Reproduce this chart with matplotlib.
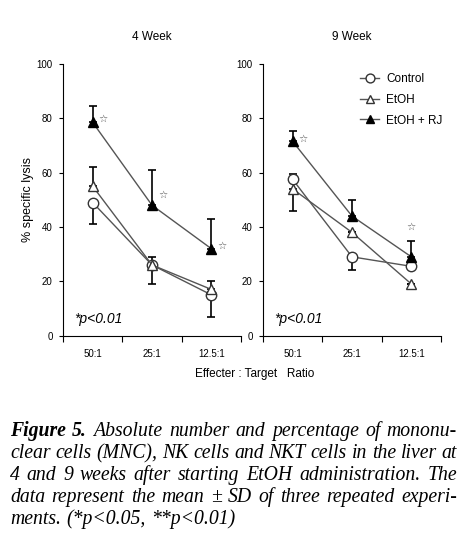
import matplotlib
matplotlib.use("Agg")
import matplotlib.pyplot as plt

categories = ["50:1", "25:1", "12.5:1"]
series_names = ["Control", "EtOH", "EtOH + RJ"]

# 4 Week: means, lower error, upper error
wk4_control = [49, 26, 15]
wk4_control_lo = [8, 7, 8]
wk4_control_hi = [0, 0, 0]
wk4_etoh = [55, 26, 17]
wk4_etoh_lo = [0, 0, 0]
wk4_etoh_hi = [7, 3, 3]
wk4_rj = [78.5, 48, 32]
wk4_rj_lo = [0, 0, 0]
wk4_rj_hi = [6, 13, 11]

# 9 Week
wk9_control = [57.5, 29, 25.5]
wk9_control_lo = [0, 5, 0]
wk9_control_hi = [2, 0, 0]
wk9_etoh = [54, 38, 19]
wk9_etoh_lo = [8, 0, 0]
wk9_etoh_hi = [0, 0, 0]
wk9_rj = [71.5, 44, 29]
wk9_rj_lo = [0, 0, 0]
wk9_rj_hi = [4, 6, 6]

W, H = 473, 544
fig = plt.figure(figsize=(W / 100, H / 100), dpi=100)
sans = ["Liberation Sans Narrow", "Liberation Sans", "DejaVu Sans"]
plt.rcParams["font.family"] = sans

def px_axes(x0, y0, x1, y1):
    return fig.add_axes([x0 / W, 1 - y1 / H, (x1 - x0) / W, (y1 - y0) / H])

line_c = "#555555"
styles = [
    dict(marker="o", mfc="white", mec="#333333", ms=7.5, mew=1),
    dict(marker="^", mfc="white", mec="#333333", ms=7.5, mew=1),
    dict(marker="^", mfc="black", mec="black", ms=7.5),
]

def panel(ax, title, data, los, his):
    xs = [0.5, 1.5, 2.5]
    handles = []
    for vals, lo, hi, st, name in zip(data, los, his, styles, series_names):
        ax.errorbar(xs, vals, yerr=[lo, hi], fmt="none", ecolor="black",
                    elinewidth=1.2, capsize=3, capthick=1.2, zorder=2)
        h, = ax.plot(xs, vals, color=line_c, lw=1, zorder=3, label=name, **st)
        handles.append(h)
    ax.set_xlim(0, 3)
    ax.set_ylim(0, 100)
    ax.set_xticks([0, 1, 2, 3])
    ax.set_xticklabels([])
    ax.set_xticks(xs, minor=True)
    ax.set_xticklabels(categories, minor=True, fontsize=7)
    ax.tick_params(axis="x", which="minor", length=0, pad=10)
    ax.tick_params(axis="x", which="major", length=4, direction="out")
    ax.set_yticks([0, 20, 40, 60, 80, 100])
    ax.tick_params(axis="y", labelsize=7, length=3, pad=4.5)
    for s in ["top", "right"]:
        ax.spines[s].set_visible(False)
    ax.set_title(title, fontsize=8.5, pad=17)
    ax.text(0.065, 0.06, "*p<0.01", transform=ax.transAxes, fontsize=10, style="italic",
            va="center")
    return handles

ax1 = px_axes(63, 64, 241, 335.6)
panel(ax1, "4 Week", [wk4_control, wk4_etoh, wk4_rj],
      [wk4_control_lo, wk4_etoh_lo, wk4_rj_lo], [wk4_control_hi, wk4_etoh_hi, wk4_rj_hi])
ax1.set_ylabel("% specific lysis", fontsize=9, labelpad=2)
star_kw = dict(fontsize=7.5, color="#555555", family=["DejaVu Sans"], va="center", ha="left")
ax1.text(0.6, wk4_rj[0] + 1.5, "☆", **star_kw)
ax1.text(1.6, wk4_rj[1] + 4, "☆", **star_kw)
ax1.text(2.6, wk4_rj[2] + 1, "☆", **star_kw)

ax2 = px_axes(263, 64, 441, 335.6)
hs = panel(ax2, "9 Week", [wk9_control, wk9_etoh, wk9_rj],
           [wk9_control_lo, wk9_etoh_lo, wk9_rj_lo], [wk9_control_hi, wk9_etoh_hi, wk9_rj_hi])
ax2.text(0.6, wk9_rj[0] + 1, "☆", **star_kw)
ax2.text(2.5, wk9_rj[2] + wk9_rj_hi[2] + 5, "☆", **{**star_kw, "ha": "center"})
ax2.legend(handles=hs, loc="upper left", bbox_to_anchor=(0.52, 0.985), frameon=False,
           fontsize=8.5, handlelength=1.6, handletextpad=0.6, labelspacing=0.75,
           borderaxespad=0, markerscale=0.85)

fig.text(255 / W, 1 - 374 / H, "Effecter : Target   Ratio", fontsize=8.5, ha="center", va="center")

# caption, justified
caption_lines = [
    [("Figure 5.", "bold"), "Absolute number and percentage of mononu-"],
    ["clear cells (MNC), NK cells and NKT cells in the liver at"],
    ["4 and 9 weeks after starting EtOH administration. The"],
    ["data represent the mean \u00b1 SD of three repeated experi-"],
    ["ments. (*p<0.05, **p<0.01)"],
]
serif = ["Liberation Serif", "DejaVu Serif"]
fs = 14.2
renderer = fig.canvas.get_renderer()
x_left, x_right = 10, 457
y0 = 436
for li, parts in enumerate(caption_lines):
    words = []
    for p in parts:
        if isinstance(p, tuple):
            words += [(w, p[1]) for w in p[0].split(" ")]
        else:
            words += [(w, "normal") for w in p.split(" ")]
    texts = []
    for w, wt in words:
        t = fig.text(0, 1 - (y0 + 22 * li) / H, w, fontsize=fs, family=serif, style="italic",
                     weight=wt, va="baseline", ha="left")
        texts.append(t)
    widths = [t.get_window_extent(renderer).width for t in texts]
    if li < len(caption_lines) - 1:
        gap = (x_right - x_left - sum(widths)) / (len(words) - 1)
    else:
        gap = 5.5
    x = x_left
    for t, wd in zip(texts, widths):
        t.set_x(x / W)
        x += wd + gap

fig.savefig("out.png", dpi=100)
